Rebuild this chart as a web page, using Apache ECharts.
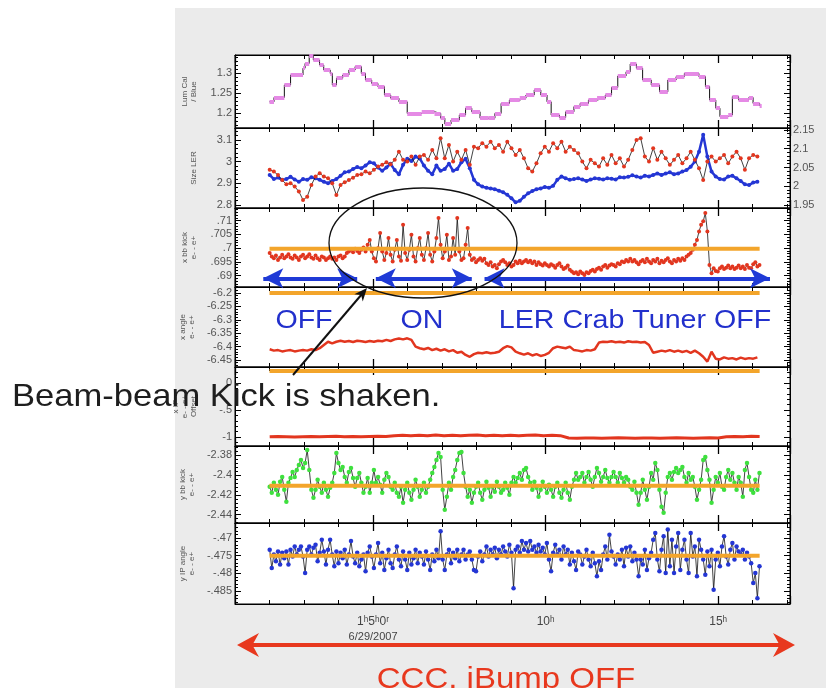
<!DOCTYPE html>
<html><head><meta charset="utf-8">
<script src="https://cdn.jsdelivr.net/npm/echarts@6/dist/echarts.min.js"></script>
<style>
html,body{margin:0;padding:0;background:#fff;}
#bg{position:absolute;left:175px;top:8px;width:651px;height:680px;background:#ebebeb;}
#c{position:absolute;left:0;top:0;width:826px;height:688px;}
</style></head><body>
<div id="bg"></div><div id="c"></div>
<script>
// ---------- DATA (time in hours of 6/29/2007) ----------
const xTickLabels = {5: '1ʰ5ʰ0ʳ', 10: '10ʰ', 15: '15ʰ'};
const dateLabel = '6/29/2007';

// Panel 1: Lum Cal / Blue (plateaus: start time, value)
const lumT = [2.00,2.13,2.43,2.61,2.97,3.03,3.15,3.27,3.45,3.57,3.76,3.82,3.94,4.12,4.30,4.48,4.66,4.78,4.96,5.14,5.33,5.51,5.75,5.99,6.41,6.78,6.96,7.08,7.26,7.50,7.68,7.86,8.10,8.35,8.53,8.71,8.95,9.25,9.43,9.67,9.86,10.04,10.16,10.40,10.58,10.82,11.00,11.24,11.49,11.73,11.91,12.09,12.33,12.45,12.63,12.81,13.06,13.30,13.54,13.78,14.02,14.44,14.63,14.75,14.93,15.05,15.29,15.41,15.59,15.89,16.01,16.20];
const lumV = [1.228,1.239,1.27,1.295,1.312,1.324,1.343,1.3325,1.32,1.3075,1.299,1.27,1.287,1.295,1.3075,1.316,1.299,1.2825,1.274,1.266,1.245,1.237,1.228,1.199,1.203,1.199,1.187,1.1725,1.1825,1.195,1.212,1.203,1.187,1.187,1.199,1.224,1.2325,1.237,1.245,1.2575,1.245,1.228,1.195,1.189,1.203,1.216,1.224,1.2325,1.237,1.245,1.264,1.2925,1.303,1.3225,1.312,1.2825,1.27,1.253,1.2825,1.291,1.299,1.291,1.266,1.2325,1.212,1.191,1.195,1.241,1.2325,1.239,1.224,1.2175];

// Panel 2: Size LER (red, left axis) and Size HER (blue, right axis), 2.005h .. 16.135h
const sizeSpan = [2.005, 16.135];
const sizeLER = [2.962,2.954,2.938,2.915,2.895,2.900,2.885,2.862,2.823,2.838,
2.892,2.931,2.946,2.931,2.923,2.900,2.846,2.892,2.905,2.915,
2.926,2.938,2.942,2.954,2.946,2.962,2.977,2.985,2.997,2.988,
3.008,3.046,3.008,3.000,3.023,2.985,3.023,3.031,3.008,3.054,
3.015,3.108,3.015,3.077,3.000,3.046,3.008,3.054,2.985,3.069,
3.062,3.085,3.069,3.092,3.062,3.077,3.046,3.092,3.062,3.031,
3.054,3.015,2.969,2.954,2.992,3.038,3.069,3.046,3.085,3.062,
3.092,3.046,3.069,3.054,3.038,3.000,2.969,3.008,2.992,2.977,
3.015,2.985,3.031,2.992,3.015,2.977,3.008,3.054,3.100,3.108,
3.023,3.000,3.062,3.008,3.046,3.015,2.985,3.008,3.031,2.992,
3.015,3.046,3.008,2.969,2.915,3.000,3.023,3.000,3.015,3.031,
2.992,3.023,3.046,3.015,2.962,3.015,3.031,3.023];
const sizeHER = [2.030,2.019,2.023,2.017,2.019,2.025,2.018,2.012,2.019,2.017,
2.024,2.021,2.017,2.012,2.008,2.014,2.019,2.028,2.037,2.039,
2.046,2.051,2.048,2.055,2.064,2.061,2.050,2.041,2.050,2.060,
2.043,2.032,2.057,2.073,2.067,2.079,2.074,2.055,2.041,2.032,
2.055,2.041,2.046,2.060,2.041,2.046,2.064,2.073,2.048,2.017,
2.005,1.999,1.996,1.994,1.992,1.988,1.984,1.977,1.968,1.957,
1.961,1.972,1.981,1.987,1.992,1.994,1.998,1.996,2.001,2.017,
2.026,2.021,2.017,2.019,2.021,2.018,2.014,2.018,2.021,2.020,
2.018,2.021,2.020,2.018,2.024,2.023,2.025,2.029,2.026,2.023,
2.028,2.026,2.030,2.034,2.030,2.034,2.037,2.032,2.034,2.039,
2.043,2.052,2.066,2.092,2.137,2.079,2.039,2.026,2.019,2.018,
2.026,2.028,2.021,2.014,2.005,2.003,2.010,2.012];

// Panel 3: x bb kick, 2.005h .. 16.196h
const kickSpan = [2.005, 16.196];
const xKick = [.6982,.6970,.6963,.6973,.6957,.6966,.6976,.6963,.6970,.6978,
.6966,.6961,.6973,.6966,.6957,.6970,.6976,.6963,.6970,.6978,
.6966,.6961,.6973,.6963,.6957,.6970,.6966,.6957,.6963,.6970,
.6961,.6966,.6957,.6970,.6973,.6963,.6970,.6982,.6988,.6994,
.6985,.6998,.6990,.6982,.6994,.7002,.6988,.7012,.7030,.6988,
.6963,.6951,.7000,.7055,.6988,.6957,.6982,.7037,.6976,.6951,
.6994,.7030,.6970,.6954,.7085,.6982,.6957,.6994,.7049,.6970,
.6951,.7000,.7037,.6976,.6957,.7000,.7055,.6976,.6951,.6988,
.7037,.7110,.7012,.6963,.6988,.7049,.6957,.6970,.7037,.6976,
.7110,.6988,.6957,.6963,.7012,.7073,.6976,.6957,.6963,.6949,
.6957,.6963,.6954,.6961,.6945,.6939,.6949,.6933,.6939,.6927,
.6941,.6951,.6957,.6949,.6939,.6945,.6933,.6939,.6951,.6945,
.6954,.6945,.6951,.6957,.6949,.6954,.6945,.6951,.6939,.6949,
.6941,.6937,.6945,.6939,.6933,.6941,.6937,.6929,.6939,.6945,
.6933,.6924,.6929,.6937,.6921,.6915,.6909,.6912,.6905,.6915,
.6909,.6902,.6912,.6909,.6917,.6921,.6915,.6924,.6929,.6921,
.6933,.6939,.6929,.6937,.6941,.6939,.6933,.6945,.6941,.6951,
.6949,.6957,.6951,.6961,.6951,.6957,.6949,.6941,.6951,.6957,
.6949,.6961,.6951,.6945,.6957,.6951,.6961,.6945,.6954,.6949,
.6957,.6963,.6951,.6945,.6957,.6951,.6961,.6954,.6963,.6957,
.6970,.6976,.6982,.6994,.7012,.7030,.7061,.7085,.7098,.7128,
.7061,.6939,.6909,.6927,.6917,.6915,.6927,.6933,.6924,.6929,
.6937,.6927,.6933,.6924,.6929,.6937,.6927,.6933,.6924,.6939,
.6929,.6927,.6941,.6949,.6933,.6939];
const kickRef = 0.6998;
const crabArrowLevel = 0.6890;
const crabArrows = [[1.82, 4.54], [5.08, 7.86], [8.23, 16.5]];

// Panel 4: x angle, 2.005h .. 16.135h
const angleSpan = [2.005, 16.135];
const xAngle = [-6.410,-6.415,-6.413,-6.418,-6.415,-6.413,-6.418,-6.415,-6.413,-6.415,
-6.410,-6.413,-6.406,-6.394,-6.382,-6.388,-6.382,-6.378,-6.382,-6.379,
-6.383,-6.378,-6.380,-6.383,-6.379,-6.382,-6.378,-6.380,-6.375,-6.379,
-6.373,-6.370,-6.373,-6.369,-6.375,-6.400,-6.406,-6.410,-6.405,-6.413,
-6.408,-6.415,-6.410,-6.418,-6.413,-6.423,-6.419,-6.431,-6.438,-6.428,
-6.423,-6.425,-6.421,-6.425,-6.423,-6.419,-6.406,-6.398,-6.403,-6.419,
-6.425,-6.430,-6.425,-6.433,-6.428,-6.435,-6.431,-6.423,-6.406,-6.400,
-6.403,-6.406,-6.400,-6.413,-6.415,-6.418,-6.413,-6.415,-6.410,-6.385,
-6.382,-6.383,-6.380,-6.384,-6.382,-6.385,-6.380,-6.383,-6.382,-6.385,
-6.383,-6.394,-6.423,-6.419,-6.415,-6.418,-6.413,-6.419,-6.415,-6.420,
-6.416,-6.423,-6.415,-6.425,-6.438,-6.456,-6.419,-6.445,-6.448,-6.440,
-6.445,-6.443,-6.448,-6.441,-6.446,-6.443,-6.445,-6.440];
const angleRef = -6.2;

// Panel 5: x IP offset, 2.005h .. 16.2h
const offSpan = [2.005, 16.2];
const xOffset = [-0.995,-0.99,-0.995,-1.0,-0.995,-0.99,-0.995,-0.99,-0.985,-0.995,-0.99,-0.995,-0.99,-0.985,-0.99,
-0.975,-0.97,-0.975,-0.97,-0.975,-0.965,-0.975,-0.97,-0.975,-0.97,-0.965,-0.975,-0.97,-0.975,-0.97,-0.975,-0.97,-0.965,-0.975,-0.97,-0.975,
-1.02,-1.025,-1.02,-1.02,-1.025,-1.02,-1.015,-1.02,-1.025,-1.02,-1.02,-1.025,-1.02,-1.015,-1.02,-1.025,-1.02,-1.015,-1.02,
-0.995,-0.99,-0.995,-0.985,-0.99];
const offsetRef = 0.222;

// Panel 6: y bb kick, 2.005h .. 16.196h
const yKickSpan = [2.005, 16.196];
const yKick = [-2.412,-2.418,-2.408,-2.415,-2.420,-2.407,-2.402,-2.415,-2.427,-2.408,
-2.403,-2.397,-2.402,-2.395,-2.390,-2.385,-2.393,-2.388,-2.375,-2.395,
-2.415,-2.423,-2.415,-2.405,-2.412,-2.418,-2.408,-2.415,-2.422,-2.413,
-2.408,-2.398,-2.378,-2.388,-2.395,-2.392,-2.402,-2.408,-2.397,-2.393,
-2.403,-2.412,-2.403,-2.398,-2.408,-2.418,-2.412,-2.403,-2.418,-2.408,
-2.395,-2.408,-2.402,-2.410,-2.418,-2.405,-2.398,-2.402,-2.412,-2.415,
-2.408,-2.418,-2.422,-2.412,-2.428,-2.415,-2.408,-2.418,-2.425,-2.415,
-2.405,-2.412,-2.422,-2.415,-2.408,-2.418,-2.412,-2.405,-2.398,-2.392,
-2.385,-2.378,-2.382,-2.415,-2.435,-2.422,-2.408,-2.415,-2.402,-2.395,
-2.385,-2.378,-2.377,-2.398,-2.412,-2.422,-2.415,-2.428,-2.418,-2.412,
-2.408,-2.418,-2.425,-2.415,-2.407,-2.413,-2.422,-2.412,-2.417,-2.407,
-2.412,-2.418,-2.415,-2.408,-2.413,-2.420,-2.408,-2.402,-2.408,-2.403,
-2.398,-2.405,-2.395,-2.393,-2.402,-2.408,-2.415,-2.407,-2.413,-2.422,
-2.415,-2.407,-2.412,-2.418,-2.410,-2.415,-2.422,-2.412,-2.408,-2.418,
-2.423,-2.415,-2.408,-2.418,-2.425,-2.412,-2.405,-2.398,-2.405,-2.402,
-2.398,-2.408,-2.402,-2.397,-2.405,-2.412,-2.402,-2.393,-2.398,-2.407,
-2.402,-2.395,-2.403,-2.408,-2.402,-2.397,-2.402,-2.408,-2.398,-2.403,
-2.408,-2.402,-2.405,-2.412,-2.415,-2.407,-2.418,-2.430,-2.418,-2.405,
-2.415,-2.425,-2.412,-2.398,-2.405,-2.388,-2.395,-2.415,-2.432,-2.438,
-2.418,-2.402,-2.398,-2.405,-2.397,-2.393,-2.398,-2.395,-2.392,-2.402,
-2.408,-2.398,-2.405,-2.402,-2.412,-2.425,-2.415,-2.405,-2.385,-2.382,
-2.395,-2.405,-2.428,-2.415,-2.402,-2.408,-2.398,-2.412,-2.415,-2.402,
-2.395,-2.405,-2.398,-2.408,-2.415,-2.402,-2.408,-2.422,-2.395,-2.388,
-2.402,-2.415,-2.418,-2.405,-2.415,-2.398];
const yKickRef = -2.411;

// Panel 7: y IP angle, 2.005h .. 16.196h
const yAngleSpan = [2.005, 16.196];
const yAngle = [-.4733,-.4785,-.4747,-.4766,-.4738,-.4775,-.4742,-.4757,-.4738,-.4775,
-.4733,-.4752,-.4724,-.4747,-.4733,-.4724,-.4752,-.4799,-.4733,-.4724,
-.4747,-.4728,-.4719,-.4766,-.4742,-.4705,-.4738,-.4775,-.4733,-.4705,
-.4747,-.4780,-.4738,-.4771,-.4742,-.4757,-.4733,-.4775,-.4747,-.4709,
-.4752,-.4771,-.4742,-.4780,-.4761,-.4747,-.4794,-.4742,-.4724,-.4752,
-.4785,-.4747,-.4714,-.4771,-.4742,-.4790,-.4757,-.4733,-.4771,-.4785,
-.4747,-.4724,-.4761,-.4780,-.4738,-.4761,-.4790,-.4742,-.4775,-.4757,
-.4733,-.4771,-.4742,-.4752,-.4775,-.4738,-.4761,-.4790,-.4747,-.4766,
-.4733,-.4757,-.4681,-.4761,-.4790,-.4747,-.4733,-.4771,-.4742,-.4757,
-.4733,-.4766,-.4747,-.4733,-.4761,-.4747,-.4738,-.4761,-.4790,-.4794,
-.4752,-.4738,-.4766,-.4747,-.4724,-.4752,-.4733,-.4747,-.4728,-.4757,
-.4733,-.4747,-.4724,-.4738,-.4752,-.4719,-.4742,-.4842,-.4733,-.4724,
-.4742,-.4709,-.4733,-.4714,-.4738,-.4709,-.4733,-.4724,-.4742,-.4719,
-.4738,-.4728,-.4747,-.4714,-.4761,-.4794,-.4742,-.4719,-.4747,-.4733,
-.4761,-.4724,-.4747,-.4733,-.4775,-.4742,-.4766,-.4790,-.4738,-.4747,
-.4775,-.4752,-.4733,-.4761,-.4780,-.4742,-.4771,-.4808,-.4766,-.4790,
-.4747,-.4724,-.4761,-.4691,-.4738,-.4752,-.4775,-.4747,-.4761,-.4733,
-.4780,-.4728,-.4752,-.4724,-.4766,-.4742,-.4761,-.4808,-.4761,-.4775,
-.4733,-.4790,-.4757,-.4742,-.4705,-.4686,-.4761,-.4794,-.4733,-.4695,
-.4799,-.4676,-.4780,-.4705,-.4799,-.4724,-.4686,-.4790,-.4733,-.4705,
-.4761,-.4799,-.4686,-.4752,-.4724,-.4808,-.4705,-.4733,-.4761,-.4804,
-.4738,-.4780,-.4733,-.4846,-.4761,-.4742,-.4780,-.4724,-.4695,-.4752,
-.4775,-.4733,-.4714,-.4761,-.4724,-.4738,-.4747,-.4733,-.4761,-.4742,
-.4752,-.4771,-.4827,-.4799,-.4870,-.4780];
const yAngleRef = -0.475;
const refSpan = [2.0, 16.2];

// ---------- LAYOUT / STYLE ----------
const RED = '#e2361f', BLUE = '#2436d4', GREEN = '#3ee03e', ORANGE = '#f3a52b', PINK = '#e58ae5';
const FONT = '"Liberation Sans", Arial, sans-serif';
const GRIDS = [[55,73],[128,80],[208,79],[287,80],[367,79],[446,77],[523,81]];
const XMIN = 1, XMAX = 17.08;
const ySpec = [
  {min:1.1625, max:1.345, step:0.05, name:'Lum Cal\n/ Blue'},
  {min:2.786, max:3.155, step:0.1, name:'Size LER'},
  {min:0.68585, max:0.71463, step:0.005, name:'x bb kick\ne- - e+'},
  {min:-6.4761, max:-6.1776, step:0.05, name:'x angle\ne- - e+'},
  {min:-1.167, max:0.296, step:0.5, name:'x IP\ne- - e+\nOffset'},
  {min:-2.4483, max:-2.371, step:0.02, name:'y bb kick\ne- - e+'},
  {min:-0.4886, max:-0.4658, step:0.005, name:'y IP angle\ne- - e+'}
];
const rightSpec2 = {min:1.942, max:2.1553, step:0.05, name:'Size HER'};

function fmt(v){ let s = String(+(+v).toFixed(4)); return s.replace(/^(-?)0\./, '$1.'); }
function pairs(span, vals){ const n = vals.length; return vals.map((v,i)=>[span[0] + (span[1]-span[0])*i/(n-1), v]); }

const black = {color:'#000', width:1};
const grid = GRIDS.map(([t,h]) => ({left:235, right:36, top:t, height:h, show:true, backgroundColor:'#fff', borderColor:'#000', borderWidth:1, containLabel:false, outerBoundsMode:'none'}));

const xAxis = [];
GRIDS.forEach((g,i) => {
  ['bottom','top'].forEach(pos => {
    xAxis.push({type:'value', gridIndex:i, position:pos, min:XMIN, max:XMAX, interval:1,
      axisLine:{show:true, onZero:false, lineStyle:black},
      axisTick:{show:true, inside:true, length:4, lineStyle:black},
      splitLine:{show:false},
      axisLabel:(i===6 && pos==='bottom') ? {show:true, margin:10, color:'#444', fontFamily:FONT, fontSize:12,
        formatter:v => v===5 ? '{a|'+xTickLabels[5]+'}\n{d|'+dateLabel+'}' : (xTickLabels[v] ? '{a|'+xTickLabels[v]+'}' : ''),
        rich:{a:{fontSize:12, color:'#444', fontFamily:FONT, lineHeight:16}, d:{fontSize:11, color:'#444', fontFamily:FONT, lineHeight:14}}} : {show:false}
    });
  });
  ['bottom','top'].forEach(pos => {
    xAxis.push({type:'value', gridIndex:i, position:pos, min:XMIN, max:XMAX, minInterval:5, maxInterval:5,
      axisLine:{show:false, onZero:false}, axisTick:{show:true, inside:true, length:8, lineStyle:{color:'#000', width:1.3}},
      splitLine:{show:false}, axisLabel:{show:false}});
  });
});

const yAxis = [];
GRIDS.forEach((g,i) => {
  const s = ySpec[i];
  yAxis.push({type:'value', gridIndex:i, position:'left', min:s.min, max:s.max, minInterval:s.step, maxInterval:s.step,
    axisLine:{show:true, onZero:false, lineStyle:black},
    axisTick:{show:true, inside:true, length:6, lineStyle:black},
    minorTick:{show:true, splitNumber:5, length:3, lineStyle:black},
    splitLine:{show:false}, minorSplitLine:{show:false},
    axisLabel:{show:true, showMinLabel:false, showMaxLabel:false, margin:3, fontSize:11, color:'#555', fontFamily:FONT, formatter:fmt},
    name:s.name, nameLocation:'middle', nameGap:37, nameRotate:90,
    nameTextStyle:{fontSize:8, color:'#555', fontFamily:FONT, lineHeight:9}
  });
  const r = (i===1) ? rightSpec2 : s;
  yAxis.push({type:'value', gridIndex:i, position:'right', min:r.min, max:r.max, minInterval:r.step, maxInterval:r.step,
    axisLine:{show:true, onZero:false, lineStyle:black},
    axisTick:{show:true, inside:true, length:6, lineStyle:black},
    minorTick:{show:true, splitNumber:5, length:3, lineStyle:black},
    splitLine:{show:false},
    axisLabel:(i===1) ? {show:true, showMinLabel:false, showMaxLabel:false, margin:3, fontSize:11, color:'#555', fontFamily:FONT, formatter:fmt} : {show:false},
    name:(i===1) ? r.name : '', nameLocation:'middle', nameGap:33, nameRotate:-90,
    nameTextStyle:{fontSize:8, color:'#555', fontFamily:FONT}
  });
});

function xi(i){ return i*4; }
function yl(i){ return i*2; }
function yr(i){ return i*2+1; }

function dotted(i, data, dotColor, size, yIdx){
  return {type:'line', xAxisIndex:xi(i), yAxisIndex:(yIdx===undefined? yl(i): yIdx), data,
    symbol:'circle', symbolSize:size, showSymbol:true, showAllSymbol:true,
    itemStyle:{color:dotColor, borderWidth:0}, lineStyle:{color:'#111', width:0.8}, z:3, silent:true};
}
function refLine(i, v){
  return {type:'line', xAxisIndex:xi(i), yAxisIndex:yl(i), data:[[refSpan[0], v],[refSpan[1], v]],
    symbol:'none', lineStyle:{color:ORANGE, width:4}, z:4, silent:true};
}

const lumStep = lumT.map((t,k)=>[t, lumV[k]]);
const lumSegs = lumT.map((t,k)=>({coords:[[t, lumV[k]], [k<lumT.length-1 ? lumT[k+1] : t+0.06, lumV[k]]]}));

const series = [
  {type:'line', xAxisIndex:xi(0), yAxisIndex:yl(0), data:lumStep, step:'end', symbol:'none', lineStyle:{color:'#111', width:1}, z:2, silent:true},
  {type:'lines', coordinateSystem:'cartesian2d', xAxisIndex:xi(0), yAxisIndex:yl(0), data:lumSegs, lineStyle:{color:PINK, width:4, opacity:1}, z:3, silent:true},

  {type:'line', xAxisIndex:xi(1), yAxisIndex:yr(1), data:pairs(sizeSpan, sizeHER), symbol:'circle', symbolSize:4, showAllSymbol:true,
    itemStyle:{color:BLUE}, lineStyle:{color:BLUE, width:2.5}, z:2, silent:true},
  dotted(1, pairs(sizeSpan, sizeLER), RED, 4),

  Object.assign(dotted(2, pairs(kickSpan, xKick), RED, 4), {markLine:{silent:true, symbol:['arrow','arrow'], symbolSize:[15,20], animation:false,
    lineStyle:{color:'#1f3ad6', width:4, type:'solid'}, label:{show:false},
    data: crabArrows.map(([a,b]) => [{coord:[a, crabArrowLevel]}, {coord:[b, crabArrowLevel]}])}}),
  refLine(2, kickRef),

  {type:'line', xAxisIndex:xi(3), yAxisIndex:yl(3), data:pairs(angleSpan, xAngle), symbol:'none', lineStyle:{color:RED, width:2.5}, z:3, silent:true},
  refLine(3, angleRef),

  {type:'line', xAxisIndex:xi(4), yAxisIndex:yl(4), data:pairs(offSpan, xOffset), symbol:'none', lineStyle:{color:RED, width:3}, z:3, silent:true},
  refLine(4, offsetRef),

  dotted(5, pairs(yKickSpan, yKick), GREEN, 4.5),
  refLine(5, yKickRef),

  dotted(6, pairs(yAngleSpan, yAngle), BLUE, 4.5),
  refLine(6, yAngleRef)
];

// annotations (slide overlays)
const ah = (tip, dir, len, half) => {
  const [ux,uy] = dir, bx = tip[0]-len*ux, by = tip[1]-len*uy, nx = -uy, ny = ux;
  return [tip, [bx+half*nx, by+half*ny], [tip[0]-0.7*len*ux, tip[1]-0.7*len*uy], [bx-half*nx, by-half*ny]];
};
const graphic = [
  {type:'ellipse', shape:{cx:423, cy:243, rx:94, ry:55}, style:{fill:'transparent', stroke:'#111', lineWidth:1.3}, z:50, silent:true},
  {type:'line', shape:{x1:293, y1:375, x2:362, y2:294}, style:{stroke:'#111', lineWidth:2}, z:50, silent:true},
  {type:'polygon', shape:{points:ah([367,288],[0.649,-0.763],13,5.5)}, style:{fill:'#111'}, z:50, silent:true},
  {type:'text', x:12, y:397, scaleX:1.08, style:{text:'Beam-beam Kick is shaken.', font:'32px '+FONT, fill:'#1e1e1e', align:'left', verticalAlign:'middle'}, z:60, silent:true},
  {type:'text', x:304, y:321, scaleX:1.1, style:{text:'OFF', font:'26px '+FONT, fill:'#2230cc', align:'center', verticalAlign:'middle'}, z:60, silent:true},
  {type:'text', x:422, y:321, scaleX:1.1, style:{text:'ON', font:'26px '+FONT, fill:'#2230cc', align:'center', verticalAlign:'middle'}, z:60, silent:true},
  {type:'text', x:635, y:321, scaleX:1.1, style:{text:'LER Crab Tuner OFF', font:'26px '+FONT, fill:'#2230cc', align:'center', verticalAlign:'middle'}, z:60, silent:true},
  {type:'line', shape:{x1:252, y1:645, x2:780, y2:645}, style:{stroke:'#e8381e', lineWidth:4}, z:60, silent:true},
  {type:'polygon', shape:{points:ah([237,645],[-1,0],22,12)}, style:{fill:'#e8381e'}, z:60, silent:true},
  {type:'polygon', shape:{points:ah([795,645],[1,0],22,12)}, style:{fill:'#e8381e'}, z:60, silent:true},
  {type:'text', x:506, y:680, scaleX:1.1, style:{text:'CCC, iBump OFF', font:'30px '+FONT, fill:'#e8381e', align:'center', verticalAlign:'middle'}, z:60, silent:true}
];

const chart = echarts.init(document.getElementById('c'), null, {renderer:'canvas'});
chart.setOption({animation:false, backgroundColor:'transparent', grid, xAxis, yAxis, series, graphic});
</script></body></html>
